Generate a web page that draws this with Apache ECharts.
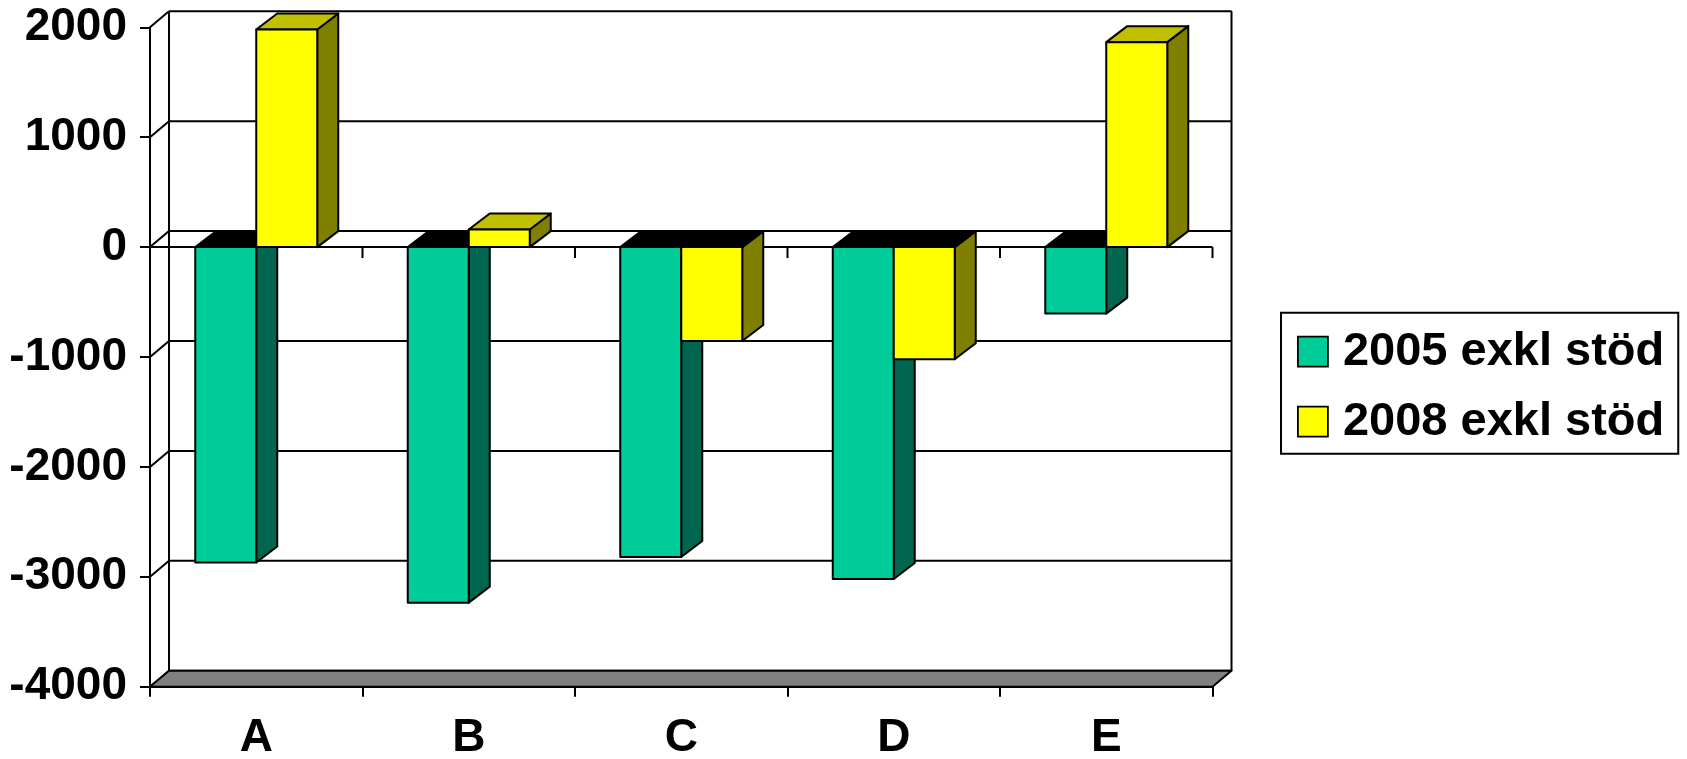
<!DOCTYPE html>
<html><head><meta charset="utf-8">
<script src="https://cdn.jsdelivr.net/npm/echarts@6/dist/echarts.min.js"></script>
<style>html,body{margin:0;padding:0;background:#fff}#c{width:1687px;height:759px}</style>
</head><body><div id="c"></div>
<script>
// ---- data ----
const categories = ['A', 'B', 'C', 'D', 'E'];
const seriesNames = ['2005 exkl stöd', '2008 exkl stöd'];
const values2005 = [-2870, -3235, -2820, -3020, -605];
const values2008 = [1980, 160, -855, -1020, 1865];
const yTicks = [-4000, -3000, -2000, -1000, 0, 1000, 2000];

// ---- style ----
const FONT = '"Liberation Sans", Arial, Helvetica, sans-serif';
const WALL_DX = 19, WALL_DY = 16, BAR_DX = 21, BAR_DY = 16;
const BAR_FRAC = 61 / 212.5;
const palettes = [
  { front: '#00CC99', side: '#006650', top: '#009973' },
  { front: '#FFFF00', side: '#808000', top: '#C0C000' }
];
const LINE = { stroke: '#000', lineWidth: 2 };

function barRender(which) {
  const pal = palettes[which];
  return function (params, api) {
    const i = api.value(0), v = api.value(1);
    const bw = api.size([1, 0])[0];
    const w = bw * BAR_FRAC;
    const c = api.coord([i, 0]);
    const pv = api.coord([i, v]);
    const x0 = which === 0 ? c[0] - w : c[0];
    const x1 = x0 + w;
    const yTop = Math.min(c[1], pv[1]), yBot = Math.max(c[1], pv[1]);
    const st = (fill) => Object.assign({ fill: fill, lineJoin: 'round' }, LINE);
    return {
      type: 'group',
      children: [
        { type: 'polygon', shape: { points: [[x1, yTop], [x1 + BAR_DX, yTop - BAR_DY], [x1 + BAR_DX, yBot - BAR_DY], [x1, yBot]] }, style: st(pal.side) },
        { type: 'polygon', shape: { points: [[x0, yTop], [x0 + BAR_DX, yTop - BAR_DY], [x1 + BAR_DX, yTop - BAR_DY], [x1, yTop]] }, style: st(v >= 0 ? pal.top : '#000000') },
        { type: 'rect', shape: { x: x0, y: yTop, width: w, height: yBot - yTop }, style: st(pal.front) }
      ]
    };
  };
}

function wallRender(params, api) {
  const v = api.value(1);
  const bw = api.size([1, 0])[0];
  const c0 = api.coord([0, v]);
  const xl = c0[0] - bw / 2;
  const xr = api.coord([categories.length - 1, v])[0] + bw / 2;
  const y = c0[1];
  return {
    type: 'group',
    children: [
      { type: 'line', shape: { x1: xl, y1: y, x2: xl + WALL_DX, y2: y - WALL_DY }, style: LINE },
      { type: 'line', shape: { x1: xl + WALL_DX, y1: y - WALL_DY, x2: xr + WALL_DX, y2: y - WALL_DY }, style: LINE }
    ]
  };
}

function floorRender(params, api) {
  const vMin = api.value(1), vMax = api.value(2), vZero = api.value(3);
  const bw = api.size([1, 0])[0];
  const n = categories.length;
  const pMin = api.coord([0, vMin]), pMax = api.coord([0, vMax]), pZero = api.coord([0, vZero]);
  const xl = pMin[0] - bw / 2;
  const xr = api.coord([n - 1, vMin])[0] + bw / 2;
  const children = [
    { type: 'line', shape: { x1: xl + WALL_DX, y1: pMax[1] - WALL_DY, x2: xl + WALL_DX, y2: pMin[1] - WALL_DY }, style: LINE },
    { type: 'line', shape: { x1: xr + WALL_DX, y1: pMax[1] - WALL_DY, x2: xr + WALL_DX, y2: pMin[1] - WALL_DY }, style: LINE },
    { type: 'polygon', shape: { points: [[xl, pMin[1]], [xr, pMin[1]], [xr + WALL_DX, pMin[1] - WALL_DY], [xl + WALL_DX, pMin[1] - WALL_DY]] }, style: Object.assign({ fill: '#808080', lineJoin: 'round' }, LINE) },
    { type: 'line', shape: { x1: xl, y1: pZero[1], x2: xr, y2: pZero[1] }, style: LINE }
  ];
  for (let k = 0; k <= n; k++) {
    const x = xl + k * bw;
    children.push({ type: 'line', shape: { x1: x, y1: pZero[1], x2: x, y2: pZero[1] + 11 }, style: LINE });
  }
  return { type: 'group', children: children };
}

const chart = echarts.init(document.getElementById('c'));
chart.setOption({
  animation: false,
  backgroundColor: '#ffffff',
  grid: { left: 150, right: 474.5, top: 27.3, bottom: 72.3, containLabel: false, outerBoundsMode: 'none' },
  xAxis: {
    type: 'category', data: categories, boundaryGap: true,
    axisLine: { show: true, onZero: false, lineStyle: { color: '#000', width: 2 } },
    axisTick: { show: true, interval: 0, length: 10, lineStyle: { color: '#000', width: 2 } },
    axisLabel: { interval: 0, margin: 29, color: '#000', fontSize: 46, fontWeight: 'bold', fontFamily: FONT },
    splitLine: { show: false }
  },
  yAxis: {
    type: 'value', min: yTicks[0], max: yTicks[yTicks.length - 1], interval: 1000,
    axisLine: { show: true, lineStyle: { color: '#000', width: 2 } },
    axisTick: { show: true, length: 10, lineStyle: { color: '#000', width: 2 } },
    axisLabel: { margin: 23, color: '#000', fontSize: 46, fontWeight: 'bold', fontFamily: FONT, formatter: v => String(v) },
    splitLine: { show: false }
  },
  legend: {
    orient: 'vertical', left: 1281, top: 312.7,
    padding: [14, 14, 7, 16],
    borderColor: '#000', borderWidth: 2, backgroundColor: '#fff',
    itemWidth: 30, itemHeight: 30, itemGap: 20, icon: 'rect',
    itemStyle: { borderColor: '#000', borderWidth: 1.8 },
    textStyle: { color: '#000', fontSize: 47, fontWeight: 'bold', fontFamily: FONT, lineHeight: 50, padding: [0, 0, 0, 10] },
    data: seriesNames
  },
  series: [
    { type: 'custom', name: 'wall', silent: true, z: 1, clip: false, renderItem: wallRender, data: yTicks.map(v => [0, v]) },
    { type: 'custom', name: 'floor', silent: true, z: 1, clip: false, renderItem: floorRender, data: [[0, yTicks[0], yTicks[yTicks.length - 1], 0]] },
    { type: 'custom', name: seriesNames[0], z: 3, clip: false, itemStyle: { color: palettes[0].front }, renderItem: barRender(0), data: values2005.map((v, i) => [i, v]) },
    { type: 'custom', name: seriesNames[1], z: 3, clip: false, itemStyle: { color: palettes[1].front }, renderItem: barRender(1), data: values2008.map((v, i) => [i, v]) }
  ]
});
</script>
</body></html>
